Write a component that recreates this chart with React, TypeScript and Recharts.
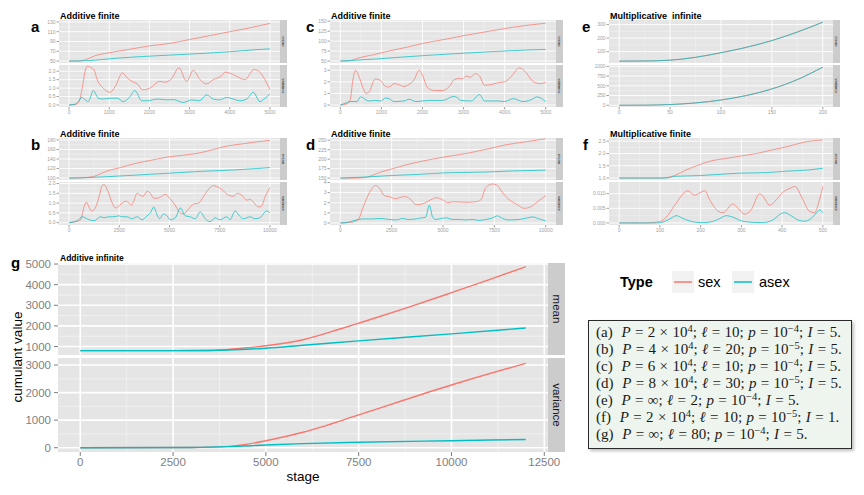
import React from "react";
import { LineChart, Line, XAxis, YAxis, CartesianGrid } from "recharts";

const SEX = "#F8766D";
const ASEX = "#00BFC4";
const SANS = "'Liberation Sans', Arial, Helvetica, sans-serif";
const SERIF = "'Liberation Serif', 'DejaVu Serif', serif";

type Pt = [number, number];

// panel a: additive finite, 5000 stages
const aXTicks = [0, 1000, 2000, 3000, 4000, 5000];
const aMeanTicks = [50, 70, 90, 110, 130];
const aVarTicks = [0, 0.5, 1, 1.5, 2];
const aMeanSex: Pt[] = [[0, 50], [250, 50], [450, 54], [650, 61], [1000, 67], [1500, 74], [2000, 81], [2500, 86], [3000, 94], [3500, 102], [4000, 110], [4500, 118], [5000, 127]];
const aMeanAsex: Pt[] = [[0, 50], [500, 51], [800, 53], [1200, 56], [2000, 60], [2700, 63], [3400, 66], [4000, 69], [4600, 73], [5000, 75]];
const aVarSex: Pt[] = [[0, 0], [150, 0.02], [250, 0.2], [320, 0.9], [400, 2.0], [450, 2.3], [560, 2.2], [620, 2.1], [700, 1.5], [850, 1.0], [1020, 0.75], [1150, 1.1], [1330, 1.9], [1450, 1.6], [1600, 1.35], [1700, 1.25], [1830, 0.9], [2010, 1.0], [2260, 1.4], [2390, 1.35], [2550, 1.55], [2735, 2.2], [2925, 1.4], [3090, 2.05], [3260, 1.5], [3420, 1.25], [3590, 1.5], [3800, 1.75], [3880, 1.95], [4090, 1.8], [4250, 1.6], [4380, 1.5], [4600, 2.1], [4725, 2.0], [4875, 1.5], [5000, 0.9]];
const aVarAsex: Pt[] = [[0, 0], [150, 0.05], [230, 0.2], [315, 0.45], [400, 0.3], [480, 0.2], [605, 0.85], [730, 0.4], [850, 0.35], [1020, 0.4], [1200, 0.4], [1350, 0.2], [1500, 0.45], [1640, 0.85], [1810, 0.25], [1950, 0.25], [2200, 0.35], [2450, 0.3], [2600, 0.32], [2840, 0.15], [3050, 0.3], [3250, 0.25], [3420, 0.6], [3590, 0.35], [3750, 0.3], [3920, 0.45], [4090, 0.35], [4250, 0.25], [4420, 0.35], [4585, 0.75], [4750, 0.2], [4875, 0.4], [5000, 0.65]];

// panel c
const cXTicks = [0, 1000, 2000, 3000, 4000, 5000];
const cMeanTicks = [50, 75, 100, 125, 150];
const cVarTicks = [0, 1, 2, 3];
const cMeanSex: Pt[] = [[0, 50], [200, 50], [450, 58], [775, 65], [1185, 75], [1635, 85], [2000, 94], [2575, 105], [3065, 115], [3635, 125], [4210, 135], [5000, 145]];
const cMeanAsex: Pt[] = [[0, 50], [370, 52], [860, 55], [1515, 60], [2250, 65], [3065, 70], [3800, 74], [4615, 78], [5000, 79]];
const cVarSex: Pt[] = [[0, 0], [160, 0.1], [245, 0.5], [300, 2.0], [370, 3.0], [450, 2.5], [550, 1.5], [630, 1.0], [715, 1.2], [800, 2.0], [860, 2.25], [980, 2.1], [1100, 1.6], [1185, 1.55], [1310, 1.85], [1430, 1.75], [1550, 1.6], [1635, 1.7], [1800, 2.2], [1920, 3.0], [1985, 2.7], [2125, 1.5], [2290, 1.25], [2490, 1.25], [2655, 1.6], [2780, 2.2], [2900, 2.3], [2970, 2.25], [3060, 2.5], [3160, 2.4], [3290, 2.7], [3390, 2.5], [3510, 1.7], [3720, 1.8], [3880, 1.95], [4000, 2.0], [4170, 2.5], [4355, 3.2], [4495, 2.9], [4700, 2.0], [4860, 1.85], [5000, 1.95]];
const cVarAsex: Pt[] = [[0, 0], [120, 0.15], [245, 0.3], [410, 0.3], [490, 0.7], [695, 0.35], [860, 0.4], [980, 0.35], [1100, 0.6], [1185, 0.55], [1310, 0.3], [1550, 0.35], [1675, 0.5], [1840, 0.3], [2170, 0.4], [2490, 0.4], [2780, 0.75], [2940, 0.4], [3190, 0.35], [3390, 0.9], [3510, 0.35], [3840, 0.35], [4000, 0.3], [4210, 0.55], [4450, 0.3], [4700, 0.55], [4780, 0.7], [5000, 0.3]];

// panel e: multiplicative infinite (sex curve hidden under asex)
const eXTicks = [0, 50, 100, 150, 200];
const eMeanTicks = [100, 200, 300];
const eVarTicks = [0, 250, 500, 750, 1000];
const eMeanAsex: Pt[] = [[0, 30], [25, 31], [50, 37], [75, 58], [100, 92], [125, 132], [150, 182], [175, 245], [200, 318]];
const eMeanSex: Pt[] = [[0, 30], [25, 31], [50, 37], [75, 58], [100, 92], [125, 132], [150, 182], [175, 245], [200, 318]];
const eVarAsex: Pt[] = [[0, 0], [25, 3], [50, 18], [75, 60], [100, 135], [125, 250], [150, 420], [175, 660], [200, 980]];
const eVarSex: Pt[] = [[0, 0], [25, 3], [50, 18], [75, 60], [100, 135], [125, 250], [150, 420], [175, 660], [200, 980]];

// panel b
const bXTicks = [0, 2500, 5000, 7500, 10000];
const bMeanTicks = [100, 120, 140, 160, 180];
const bVarTicks = [0, 0.5, 1, 1.5, 2];
const bMeanSex: Pt[] = [[0, 100], [410, 100], [1170, 103], [1400, 106], [1900, 115], [2560, 122], [3220, 130], [4050, 137], [4875, 144], [5700, 148], [6530, 153], [7190, 160], [7850, 167], [8680, 172], [9340, 176], [10000, 179]];
const bMeanAsex: Pt[] = [[0, 100], [900, 101], [1900, 103], [3220, 106], [4875, 110], [6530, 114], [8180, 117], [9340, 120], [10000, 122]];
const bVarSex: Pt[] = [[0, 0], [330, 0.05], [580, 0.15], [745, 0.8], [860, 1.05], [990, 0.8], [1110, 0.6], [1240, 0.65], [1490, 1.3], [1650, 1.9], [1735, 1.95], [1900, 1.7], [2150, 1.0], [2315, 0.75], [2480, 0.85], [2695, 1.05], [2860, 1.1], [2980, 1.0], [3110, 0.9], [3220, 1.1], [3390, 1.5], [3550, 1.4], [3690, 1.35], [3885, 1.6], [4050, 1.5], [4215, 1.25], [4380, 1.25], [4545, 1.3], [4795, 1.45], [4960, 1.3], [5210, 1.0], [5540, 0.5], [5700, 0.45], [5950, 0.7], [6200, 0.95], [6450, 1.0], [6695, 1.35], [6940, 1.7], [7190, 1.9], [7350, 1.85], [7600, 1.7], [7935, 1.4], [8180, 1.35], [8380, 1.5], [8600, 1.4], [8845, 1.15], [9010, 1.2], [9175, 1.05], [9420, 0.8], [9590, 0.85], [9750, 1.3], [10000, 1.8]];
const bVarAsex: Pt[] = [[0, 0], [410, 0.1], [660, 0.3], [990, 0.15], [1240, 0.1], [1570, 0.3], [1735, 0.25], [1985, 0.3], [2230, 0.3], [2480, 0.35], [2645, 0.3], [2890, 0.3], [3140, 0.2], [3390, 0.3], [3640, 0.15], [3885, 0.35], [4050, 0.5], [4215, 0.8], [4380, 0.4], [4510, 0.2], [4710, 0.45], [4875, 0.35], [5040, 0.15], [5290, 0.25], [5540, 0.75], [5785, 0.35], [6030, 0.3], [6280, 0.2], [6530, 0.55], [6780, 0.2], [7025, 0.05], [7270, 0.25], [7520, 0.15], [7850, 0.3], [8015, 0.15], [8265, 0.6], [8480, 0.35], [8680, 0.2], [9010, 0.3], [9255, 0.2], [9500, 0.25], [9835, 0.6], [10000, 0.5]];

// panel d
const dXTicks = [0, 2500, 5000, 7500, 10000];
const dMeanTicks = [150, 175, 200, 225, 250];
const dVarTicks = [0, 1, 2, 3, 4];
const dMeanSex: Pt[] = [[0, 150], [780, 150], [1260, 152], [1910, 165], [2555, 175], [3200, 185], [4010, 195], [4980, 205], [6115, 215], [7085, 226], [8060, 238], [9030, 246], [10000, 254]];
const dMeanAsex: Pt[] = [[0, 150], [1260, 153], [2555, 157], [3850, 160], [5145, 164], [7085, 166], [8380, 169], [10000, 171]];
const dVarSex: Pt[] = [[0, 0], [450, 0.05], [860, 0.3], [1100, 1.5], [1420, 3.0], [1715, 3.7], [1880, 3.5], [2150, 2.7], [2395, 2.6], [2685, 2.4], [2960, 2.55], [3170, 2.6], [3440, 2.3], [3690, 1.8], [4010, 1.9], [4415, 2.3], [4660, 2.5], [4980, 2.3], [5225, 2.0], [5470, 2.1], [6115, 2.05], [6600, 2.1], [6845, 2.3], [7085, 3.5], [7410, 3.85], [7650, 3.7], [7895, 3.0], [8220, 2.3], [8625, 1.8], [8950, 1.45], [9270, 1.6], [9595, 2.1], [10000, 2.7]];
const dVarAsex: Pt[] = [[0, 0], [450, 0.1], [780, 0.3], [1100, 0.4], [1580, 0.4], [1910, 0.45], [2395, 0.35], [2720, 0.3], [3040, 0.45], [3290, 0.35], [3690, 0.4], [3930, 0.5], [4150, 0.55], [4335, 1.75], [4500, 0.55], [4660, 0.35], [4900, 0.45], [5145, 0.5], [5470, 0.35], [5790, 0.35], [6115, 0.3], [6440, 0.35], [6760, 0.25], [7085, 0.35], [7410, 0.5], [7650, 0.7], [7895, 0.45], [8220, 0.3], [8700, 0.35], [9110, 0.5], [9350, 0.6], [9680, 0.4], [10000, 0.2]];

// panel f: multiplicative finite
const fXTicks = [0, 100, 200, 300, 400, 500];
const fMeanTicks = [1, 1.5, 2, 2.5];
const fVarTicks = [0, 0.005, 0.01];
const fMeanSex: Pt[] = [[0, 1.0], [100, 1.0], [116, 1.02], [136, 1.1], [161, 1.3], [190, 1.5], [226, 1.7], [263, 1.8], [300, 1.9], [337, 2.0], [377, 2.15], [418, 2.3], [451, 2.45], [500, 2.55]];
const fMeanAsex: Pt[] = [[0, 1.0], [116, 1.0], [136, 1.07], [198, 1.1], [247, 1.15], [296, 1.2], [361, 1.22], [410, 1.28], [467, 1.33], [500, 1.4]];
const fVarSex: Pt[] = [[0, 0], [67, 0], [100, 0.0005], [116, 0.002], [136, 0.006], [169, 0.011], [185, 0.0095], [210, 0.011], [222, 0.008], [243, 0.004], [255, 0.0035], [279, 0.0065], [292, 0.005], [308, 0.003], [324, 0.0045], [345, 0.01], [361, 0.0075], [369, 0.006], [386, 0.008], [402, 0.0105], [422, 0.012], [431, 0.0125], [451, 0.008], [467, 0.004], [480, 0.0035], [490, 0.007], [500, 0.0125]];
const fVarAsex: Pt[] = [[0, 0], [92, 0], [112, 0.0005], [132, 0.002], [140, 0.0025], [157, 0.0015], [181, 0.0004], [206, 0.0001], [230, 0.0005], [247, 0.0015], [263, 0.0025], [279, 0.002], [300, 0.0007], [328, 0.0002], [353, 0.0001], [377, 0.001], [398, 0.0032], [406, 0.0035], [422, 0.0025], [439, 0.001], [455, 0.0006], [471, 0.0015], [488, 0.004], [492, 0.0045], [500, 0.0035]];

// panel g: additive infinite
const gXTicks = [0, 2500, 5000, 7500, 10000, 12500];
const gMeanTicks = [1000, 2000, 3000, 4000, 5000];
const gVarTicks = [0, 1000, 2000, 3000];
const gMeanSex: Pt[] = [[0, 800], [2500, 800], [3500, 810], [4000, 860], [4500, 940], [5000, 1040], [6000, 1330], [7000, 1850], [7500, 2130], [8750, 2850], [10000, 3610], [11000, 4230], [12000, 4870]];
const gMeanAsex: Pt[] = [[0, 800], [2500, 800], [3500, 810], [4000, 830], [5000, 920], [6000, 1060], [7500, 1275], [10000, 1613], [12000, 1900]];
const gVarSex: Pt[] = [[0, 0], [3000, 10], [4000, 50], [4500, 130], [5000, 254], [6000, 560], [7500, 1190], [8750, 1740], [10000, 2275], [12000, 3060]];
const gVarAsex: Pt[] = [[0, 0], [3000, 10], [4000, 40], [5000, 100], [6000, 150], [7500, 200], [10000, 255], [12000, 300]];

const rows = (pts: Pt[]) => pts.map(([x, y]) => ({ x, y }));
const mids = (t: number[]) => t.slice(1).map((v, i) => (v + t[i]) / 2);
const f1 = (v: number) => v.toFixed(1);
const f3 = (v: number) => v.toFixed(3);

type FacetProps = {
  left: number;
  top: number;
  w: number;
  h: number;
  xDomain: [number, number];
  xTicks: number[];
  showX?: boolean;
  yDomain: [number, number];
  yTicks: number[];
  yFmt?: (v: number) => string;
  sex: Pt[];
  asex: Pt[];
  strip: string;
  big?: boolean;
};

function Facet(p: FacetProps) {
  const big = !!p.big;
  const yw = big ? 50 : 26;
  const xh = p.showX ? (big ? 22 : 10) : 0;
  // room round the plot so edge tick labels are not clipped
  const mt = big ? 8 : 4;
  const mb = p.showX ? 0 : big ? 8 : 4;
  const mr = big ? 22 : 10;
  const font = big ? 11.5 : 5;
  const tickColor = big ? "#7F7F7F" : "#A0A0A0";
  const tickSize = big ? 4 : 2.5;
  const lw = big ? 1.4 : 0.9;
  const stripW = big ? 17 : 7;
  const tick = { fontSize: font, fill: tickColor, fontFamily: SANS };
  return (
    <div style={{ position: "absolute", left: p.left - yw, top: p.top - mt }}>
      <LineChart width={yw + p.w + mr} height={mt + p.h + xh + mb} margin={{ top: mt, right: mr, bottom: mb, left: 0 }}>
        <CartesianGrid
          fill="#E5E5E5"
          stroke="#F2F2F2"
          strokeWidth={big ? 0.8 : 0.5}
          horizontalValues={mids(p.yTicks)}
          verticalValues={mids(p.xTicks)}
        />
        <CartesianGrid stroke="#FFFFFF" strokeWidth={big ? 1.6 : 0.9} horizontalValues={p.yTicks} verticalValues={p.xTicks} />
        <XAxis
          type="number"
          dataKey="x"
          domain={p.xDomain}
          ticks={p.xTicks}
          interval={0}
          hide={!p.showX}
          height={xh || 1}
          axisLine={false}
          tickLine={{ stroke: tickColor }}
          tickSize={tickSize}
          tickMargin={big ? 2 : 0.5}
          tick={tick}
        />
        <YAxis
          type="number"
          domain={p.yDomain}
          ticks={p.yTicks}
          interval={0}
          width={yw}
          axisLine={false}
          tickLine={{ stroke: tickColor }}
          tickSize={tickSize}
          tickMargin={big ? 3 : 1}
          tick={tick}
          tickFormatter={p.yFmt}
        />
        <Line data={rows(p.sex)} dataKey="y" type="monotone" stroke={SEX} strokeWidth={lw} strokeOpacity={big ? 1 : 0.8} dot={false} isAnimationActive={false} />
        <Line data={rows(p.asex)} dataKey="y" type="monotone" stroke={ASEX} strokeWidth={lw} strokeOpacity={big ? 1 : 0.8} dot={false} isAnimationActive={false} />
      </LineChart>
      <svg style={{ position: "absolute", left: yw + p.w, top: mt }} width={stripW} height={p.h}>
        <rect width={stripW} height={p.h} fill="#CCCCCC" />
        <text
          transform={`translate(${stripW / 2},${p.h / 2}) rotate(90)`}
          textAnchor="middle"
          dominantBaseline="central"
          fontSize={big ? 11.5 : 4}
          fontFamily={SANS}
          fill="#1A1A1A"
        >
          {p.strip}
        </text>
      </svg>
    </div>
  );
}

function Panel(props: {
  left: number; w: number; top1: number; h1: number; top2: number; h2: number;
  xDomain: [number, number]; xTicks: number[];
  meanDomain: [number, number]; meanTicks: number[]; meanFmt?: (v: number) => string;
  varDomain: [number, number]; varTicks: number[]; varFmt?: (v: number) => string;
  meanSex: Pt[]; meanAsex: Pt[]; varSex: Pt[]; varAsex: Pt[]; big?: boolean;
}) {
  const p = props;
  return (
    <>
      <Facet left={p.left} top={p.top1} w={p.w} h={p.h1} xDomain={p.xDomain} xTicks={p.xTicks} yDomain={p.meanDomain} yTicks={p.meanTicks} yFmt={p.meanFmt} sex={p.meanSex} asex={p.meanAsex} strip="mean" big={p.big} />
      <Facet left={p.left} top={p.top2} w={p.w} h={p.h2} xDomain={p.xDomain} xTicks={p.xTicks} showX yDomain={p.varDomain} yTicks={p.varTicks} yFmt={p.varFmt} sex={p.varSex} asex={p.varAsex} strip="variance" big={p.big} />
    </>
  );
}

const boxLines = [
  { tag: "a", P: "2", l: "10", e: "−4", I: "5" },
  { tag: "b", P: "4", l: "20", e: "−5", I: "5" },
  { tag: "c", P: "6", l: "10", e: "−4", I: "5" },
  { tag: "d", P: "8", l: "30", e: "−5", I: "5" },
  { tag: "e", P: "", l: "2", e: "−4", I: "5" },
  { tag: "f", P: "2", l: "10", e: "−5", I: "1" },
  { tag: "g", P: "", l: "80", e: "−4", I: "5" },
];

const supStyle: React.CSSProperties = { fontSize: "0.7em", verticalAlign: "0.45em", lineHeight: 0 };

export default function App() {
  const title = (x: number, y: number, s: string, size = 9) => (
    <text x={x} y={y} fontSize={size} fontWeight="bold" fontFamily={SANS} fill="#000" style={{ whiteSpace: "pre" }}>
      {s}
    </text>
  );
  const letter = (x: number, y: number, s: string) => (
    <text x={x} y={y} fontSize={15} fontWeight="bold" fontFamily={SANS} fill="#000">
      {s}
    </text>
  );
  return (
    <div style={{ position: "absolute", left: 0, top: 0, width: 864, height: 495, background: "#fff", overflow: "hidden" }}>
      <Panel left={59} w={221} top1={20} h1={43} top2={65} h2={42} xDomain={[-250, 5250]} xTicks={aXTicks}
        meanDomain={[46, 134]} meanTicks={aMeanTicks} varDomain={[-0.12, 2.37]} varTicks={aVarTicks} varFmt={f1}
        meanSex={aMeanSex} meanAsex={aMeanAsex} varSex={aVarSex} varAsex={aVarAsex} />
      <Panel left={330} w={226} top1={20} h1={43} top2={65} h2={42} xDomain={[-250, 5250]} xTicks={cXTicks}
        meanDomain={[45, 153]} meanTicks={cMeanTicks} varDomain={[-0.17, 3.45]} varTicks={cVarTicks}
        meanSex={cMeanSex} meanAsex={cMeanAsex} varSex={cVarSex} varAsex={cVarAsex} />
      <Panel left={609} w={224} top1={20} h1={43} top2={65} h2={42} xDomain={[-10, 210]} xTicks={eXTicks}
        meanDomain={[16, 334]} meanTicks={eMeanTicks} varDomain={[-45, 1035]} varTicks={eVarTicks}
        meanSex={eMeanSex} meanAsex={eMeanAsex} varSex={eVarSex} varAsex={eVarAsex} />
      <Panel left={59} w={221} top1={138} h1={42} top2={182} h2={43} xDomain={[-500, 10500]} xTicks={bXTicks}
        meanDomain={[96, 184]} meanTicks={bMeanTicks} varDomain={[-0.12, 2.08]} varTicks={bVarTicks} varFmt={f1}
        meanSex={bMeanSex} meanAsex={bMeanAsex} varSex={bVarSex} varAsex={bVarAsex} />
      <Panel left={330} w={226} top1={138} h1={42} top2={182} h2={43} xDomain={[-500, 10500]} xTicks={dXTicks}
        meanDomain={[145, 256]} meanTicks={dMeanTicks} varDomain={[-0.2, 4.05]} varTicks={dVarTicks}
        meanSex={dMeanSex} meanAsex={dMeanAsex} varSex={dVarSex} varAsex={dVarAsex} />
      <Panel left={609} w={224} top1={138} h1={42} top2={182} h2={43} xDomain={[-25, 525]} xTicks={fXTicks}
        meanDomain={[0.92, 2.63]} meanTicks={fMeanTicks} meanFmt={f1} varDomain={[-0.0007, 0.014]} varTicks={fVarTicks} varFmt={f3}
        meanSex={fMeanSex} meanAsex={fMeanAsex} varSex={fVarSex} varAsex={fVarAsex} />
      <Panel big left={58} w={490} top1={263} h1={92} top2={358} h2={94} xDomain={[-600, 12600]} xTicks={gXTicks}
        meanDomain={[590, 5050]} meanTicks={gMeanTicks} varDomain={[-155, 3255]} varTicks={gVarTicks}
        meanSex={gMeanSex} meanAsex={gMeanAsex} varSex={gVarSex} varAsex={gVarAsex} />

      <svg width={864} height={495} style={{ position: "absolute", left: 0, top: 0, pointerEvents: "none" }}>
        {title(60, 19, "Additive finite")}
        {title(331, 19, "Additive finite")}
        {title(610, 19, "Multiplicative  infinite")}
        {title(60, 137, "Additive finite")}
        {title(331, 137, "Additive finite")}
        {title(610, 137, "Multiplicative finite")}
        {title(60, 261, "Additive infinite", 8.5)}
        {letter(31, 32, "a")}
        {letter(306, 32, "c")}
        {letter(582, 32, "e")}
        {letter(31, 150, "b")}
        {letter(306, 150, "d")}
        {letter(583, 150, "f")}
        {letter(11, 268, "g")}
        <text transform="translate(17,357) rotate(-90)" textAnchor="middle" dominantBaseline="central" fontSize={13.5} fontFamily={SANS} fill="#000">
          cumulant value
        </text>
        <text x={303} y={481} textAnchor="middle" fontSize={13.5} fontFamily={SANS} fill="#000">
          stage
        </text>
        <text x={620} y={287} fontSize={14.5} fontWeight="bold" fontFamily={SANS} fill="#000">Type</text>
        <rect x={672} y={271} width={22} height={22} fill="#F2F2F2" />
        <line x1={674} x2={692} y1={282} y2={282} stroke={SEX} strokeWidth={1.5} />
        <text x={698} y={287} fontSize={14.5} fontFamily={SANS} fill="#000">sex</text>
        <rect x={732} y={271} width={22} height={22} fill="#F2F2F2" />
        <line x1={734} x2={752} y1={282} y2={282} stroke={ASEX} strokeWidth={1.5} />
        <text x={759} y={287} fontSize={14.5} fontFamily={SANS} fill="#000">asex</text>
      </svg>

      <div
        style={{
          position: "absolute",
          left: 588,
          top: 320,
          width: 264,
          height: 129,
          boxSizing: "border-box",
          border: "1.5px solid #2A2A2A",
          background: "#EEF5EE",
          boxShadow: "2px 2px 3px rgba(0,0,0,0.25)",
          padding: "3px 0 0 7px",
          fontFamily: SERIF,
          fontSize: 15,
          lineHeight: "17px",
          wordSpacing: "0.6px",
          color: "#1A1A1A",
          whiteSpace: "nowrap",
        }}
      >
        {boxLines.map((r) => (
          <div key={r.tag}>
            ({r.tag})&nbsp; <i>P</i> = {r.P ? <>{r.P} × 10<span style={supStyle}>4</span></> : "∞"}; <i>ℓ</i> = {r.l};{" "}
            <i>p</i> = 10<span style={supStyle}>{r.e}</span>; <i>I</i> = {r.I}.
          </div>
        ))}
      </div>
    </div>
  );
}
